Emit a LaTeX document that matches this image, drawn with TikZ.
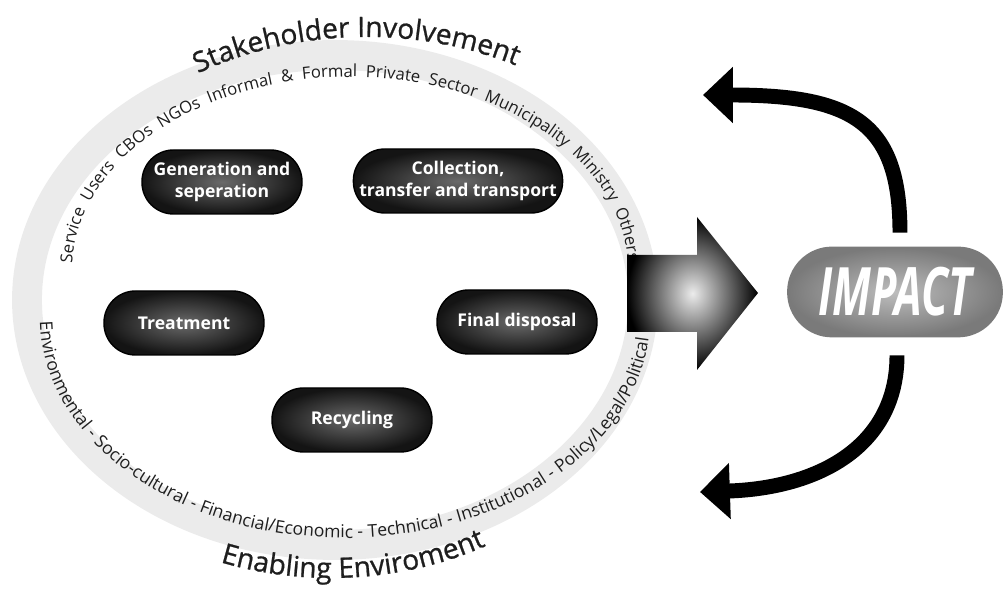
\documentclass[tikz,border=0pt]{standalone}
\usepackage{fontspec}
\setmainfont{Open Sans}
\newfontface\arcbigface{Open Sans}[FakeBold=0.8]
\usepackage{graphicx}
\usetikzlibrary{arrows.meta,decorations.text}
\definecolor{pilldark}{HTML}{141414}
\definecolor{pillshine}{HTML}{6A6A6A}
\definecolor{ringgray}{HTML}{EBEBEB}
\definecolor{textdark}{HTML}{1E1E1E}
\definecolor{impactlight}{HTML}{BDBDBD}
\definecolor{impactdark}{HTML}{7A7A7A}
\newcommand{\arcbig}{\arcbigface\fontsize{16}{18}\selectfont}
\newcommand{\arctop}{\fontsize{9.5}{11}\selectfont}
\newcommand{\arclow}{\fontsize{10}{12}\selectfont}

\begin{document}
\begin{tikzpicture}[
  x=0.2mm, y=0.2mm,
  >={Triangle[width=31pt,length=17pt]},
  pill/.style={rectangle, rounded corners=6.3mm, minimum width=3.2cm, minimum height=1.28cm, align=center,
    draw=black, line width=0.8pt, inner color=pillshine, outer color=pilldark,
    text=white, font=\fontsize{10}{12.5}\selectfont\bfseries},
  impactbox/.style={rectangle, rounded corners=8.8mm, minimum width=4.28cm, minimum height=1.78cm,
    draw=impactdark, line width=1pt, inner color=impactlight, outer color=impactdark, text=white},
  ring/.style={draw=ringgray, line width=17pt},
  loopback/.style={->, draw=black, line width=8.5pt},
  bigarrow/.style={inner color=gray!15, outer color=black}
]
  \useasboundingbox (0,0) rectangle (1008,590);

  \draw[ring] (335,290) ellipse [x radius=308, y radius=245];

  \path[decorate, decoration={text along path, text color=textdark, text align=center,
    text={|\arcbig|Stakeholder Involvement}}]
    (366,283) ++(155:335 and 270) arc[start angle=155, end angle=29, x radius=335, y radius=270];
  \path[decorate, decoration={text along path, text color=textdark, text align={fit to path stretching spaces},
    text={|\arctop|Service Users CBOs NGOs Informal {\&} Formal Private Sector Municipality Ministry Others{\hphantom{x}}}}]
    (350,320) ++(178:278 and 193) arc[start angle=178, end angle=0, x radius=278, y radius=193];
  \path[decorate, decoration={text along path, text color=textdark, text align={fit to path stretching spaces},
    text={|\arclow|Environmental - Socio-cultural - Financial/Economic - Technical - Institutional - Policy/Legal/Political{\hphantom{x}}}}]
    (345,272) ++(181:305 and 220) arc[start angle=181, end angle=357, x radius=305, y radius=220];
  \path[decorate, decoration={text along path, text color=textdark, text align=center,
    text={|\arcbig|Enabling Enviroment}}]
    (331,282) ++(230:327 and 270) arc[start angle=230, end angle=319, x radius=327, y radius=270];

  \node[pill] (gen) at (222,408) {Generation and\\seperation};
  \node[pill, minimum width=4.18cm] (coll) at (458,409) {Collection,\\transfer and transport};
  \node[pill] (treat) at (184,267) {Treatment};
  \node[pill] (final) at (517,268) {Final disposal};
  \node[pill] (recyc) at (352,170) {Recycling};

  \shade[bigarrow] (627,258) -- (697,258) -- (697,220) -- (758,297) -- (697,373) -- (697,335) -- (627,335) -- cycle;

  \node[impactbox] (impact) at (895,298) {\scalebox{0.66}[1]{\fontsize{38}{38}\selectfont\bfseries\itshape IMPACT}};

  \coordinate (upend) at (703,495);
  \coordinate (downend) at (700,98);
  \draw[loopback] ([shift={(5,14)}]impact.north) .. controls +(0,110) and +(150,0) .. (upend);
  \draw[loopback] ([shift={(2,-18)}]impact.south) .. controls +(0,-90) and +(120,4) .. (downend);
\end{tikzpicture}
\end{document}
